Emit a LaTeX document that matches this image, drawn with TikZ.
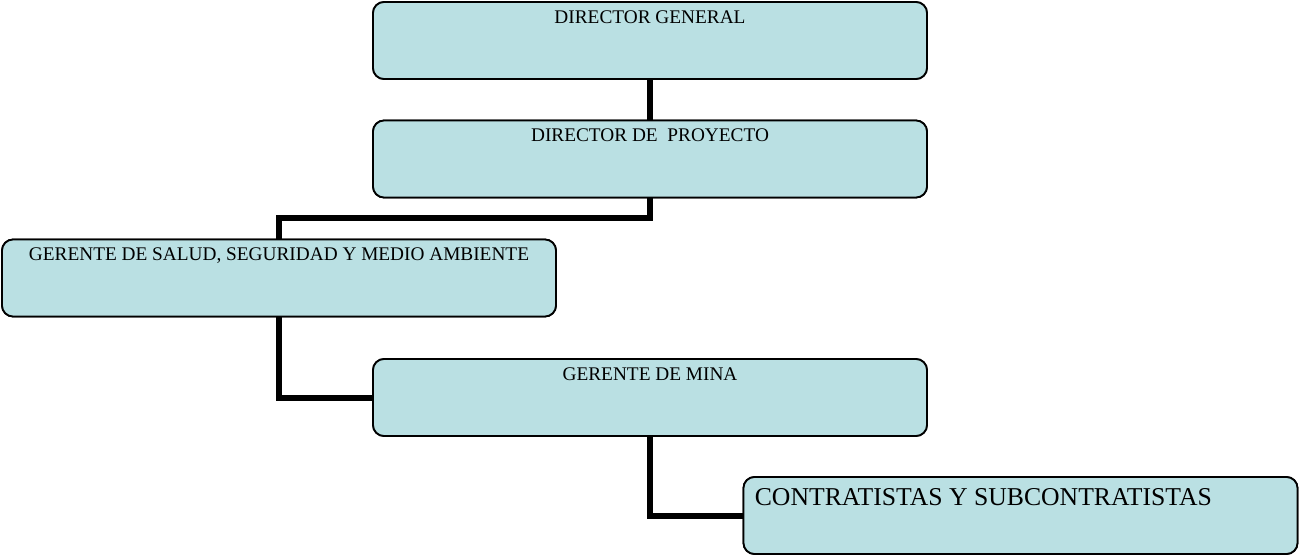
\documentclass[tikz,border=0pt]{standalone}
\usepackage{fontspec}
\setmainfont{Liberation Serif}
\definecolor{boxfill}{RGB}{186,224,227}
\tikzset{
  orgbox/.style={draw=black, line width=1.8pt, fill=boxfill, rounded corners=11pt,
    minimum width=554pt, minimum height=77pt, inner sep=0pt},
  orgtext/.style={inner sep=0pt, font=\fontsize{19.3}{23}\selectfont},
  bigtext/.style={inner sep=0pt, font=\fontsize{25.7}{30}\selectfont},
  link/.style={draw=black, line width=6pt, line join=miter}
}
\begin{document}
\begin{tikzpicture}[x=1pt,y=1pt]
\useasboundingbox (0,0) rectangle (1299,-556);
\fill[white] (0,0) rectangle (1299,-556);
% boxes
\node[orgbox] (b1) at (650,-40.5) {};
\node[orgbox] (b2) at (650,-159) {};
\node[orgbox] (b3) at (279,-278) {};
\node[orgbox] (b4) at (650,-397.5) {};
\node[orgbox] (b5) at (1020.5,-515.5) {};
% connectors
\draw[link] (b1.south) -- (b2.north);
\draw[link] (b2.south) -- ++(0,-20) -| (b3.north);
\draw[link] (b3.south) |- (b4.west);
\draw[link] (b4.south) |- (b5.west);
% redraw boxes on top of connectors
\node[orgbox] at (b1.center) {};
\node[orgbox] at (b2.center) {};
\node[orgbox] at (b3.center) {};
\node[orgbox] at (b4.center) {};
\node[orgbox] at (b5.center) {};
% texts
\node[orgtext, anchor=base] (t1) at ([yshift=-22pt]b1.north) {DIRECTOR GENERAL};
\node[orgtext, anchor=base] (t2) at ([yshift=-22pt]b2.north) {DIRECTOR DE\ \ PROYECTO};
\node[orgtext, anchor=base] (t3) at ([yshift=-22pt]b3.north) {GERENTE DE SALUD, SEGURIDAD Y MEDIO AMBIENTE};
\node[orgtext, anchor=base] (t4) at ([yshift=-22pt]b4.north) {GERENTE DE MINA};
\node[bigtext, anchor=base west] (t5) at ([xshift=12pt,yshift=-29pt]b5.north west) {CONTRATISTAS Y SUBCONTRATISTAS};
\end{tikzpicture}
\end{document}
